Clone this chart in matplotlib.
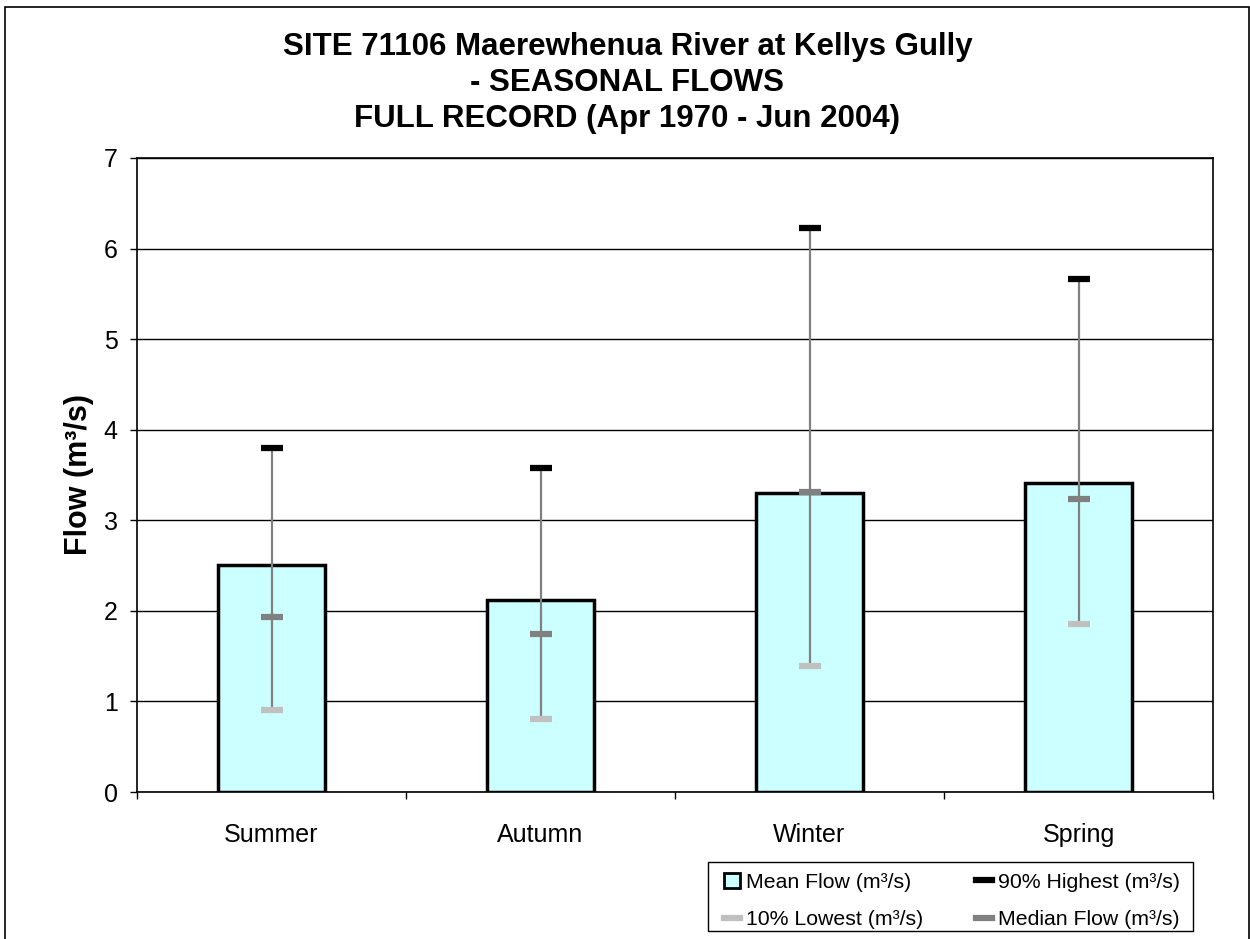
import numpy as np
import matplotlib.pyplot as plt
from matplotlib.patches import Rectangle, Patch
from matplotlib.lines import Line2D

plt.rcParams['font.family'] = ['Liberation Sans', 'DejaVu Sans']

# ---------------- Data ----------------
seasons = ["Summer", "Autumn", "Winter", "Spring"]
mean_flow = [2.51, 2.12, 3.30, 3.41]
high_90 = [3.80, 3.58, 6.23, 5.66]
median_flow = [1.93, 1.75, 3.31, 3.23]
low_10 = [0.90, 0.81, 1.39, 1.86]

# ---------------- Figure ----------------
W, H = 1250, 939
fig = plt.figure(figsize=(W / 100, H / 100), dpi=100)
ax = fig.add_axes([137 / W, 1 - 792 / H, (1213 - 137) / W, (792 - 158) / H])

x = np.arange(len(seasons))

ax.bar(x, mean_flow, width=0.4, color="#CCFFFF", edgecolor="black", linewidth=2.5, zorder=2)

# high-low lines and markers
ax.vlines(x, low_10, high_90, color="#808080", linewidth=1.6, zorder=3)
ax.plot(x, high_90, ls="none", marker="_", ms=16, mew=4.5, color="black", zorder=4)
ax.plot(x, median_flow, ls="none", marker="_", ms=16, mew=4.5, color="#808080", zorder=4)
ax.plot(x, low_10, ls="none", marker="_", ms=16, mew=4.5, color="#C0C0C0", zorder=4)

# ---------------- Axes styling ----------------
ax.set_xlim(-0.5, len(seasons) - 0.5)
ax.set_ylim(0, 7)
ax.set_yticks(range(0, 8))
ax.yaxis.grid(True, color="black", linewidth=1.0)
ax.set_axisbelow(True)

ax.set_xticks(np.arange(-0.5, len(seasons), 1.0))
ax.set_xticklabels([])
ax.set_xticks(x, minor=True)
ax.set_xticklabels(seasons, minor=True)

ax.tick_params(axis="y", direction="out", length=5, width=1, pad=9, labelsize=18)
ax.tick_params(axis="x", which="major", direction="out", length=5, width=1)
ax.tick_params(axis="x", which="minor", length=0, pad=22, labelsize=18)

for s in ax.spines.values():
    s.set_linewidth(1.2)
    s.set_color("black")

ax.set_ylabel("Flow (m³/s)", fontsize=22, fontweight="bold", labelpad=7)

# ---------------- Title ----------------
fig.text(0.502, 1 - 83 / H,
         "SITE 71106 Maerewhenua River at Kellys Gully\n- SEASONAL FLOWS\nFULL RECORD (Apr 1970 - Jun 2004)",
         ha="center", va="center", fontsize=22.5, fontweight="bold", linespacing=1.25)

# ---------------- Legend ----------------
handles = [
    Patch(facecolor="#CCFFFF", edgecolor="black", linewidth=2, label="Mean Flow (m³/s)"),
    Line2D([], [], color="#C0C0C0", lw=4.5, label="10% Lowest (m³/s)"),
    Line2D([], [], color="black", lw=4.5, label="90% Highest (m³/s)"),
    Line2D([], [], color="#808080", lw=4.5, label="Median Flow (m³/s)"),
]
leg = fig.legend(handles=handles, ncol=2, loc="center",
                 bbox_to_anchor=(724 / W, 1 - 940 / H, (1180 - 724) / W, (940 - 862) / H),
                 mode="expand", fontsize=15.3, frameon=False,
                 handlelength=0.75, handleheight=0.75, handletextpad=0.3,
                 columnspacing=1.0, borderpad=0.0, labelspacing=0.85, borderaxespad=0)

# legend box
fig.patches.append(Rectangle((708 / W, 1 - 931 / H), (1193 - 708) / W, (931 - 862) / H,
                             transform=fig.transFigure, fill=False,
                             edgecolor="black", linewidth=1.0))

# ---------------- Figure border ----------------
fig.patches.append(Rectangle((5 / W, -0.01), (1249 - 5) / W, 1.01 - 7 / H,
                             transform=fig.transFigure, fill=False,
                             edgecolor="black", linewidth=1.2))

fig.savefig("out.png", dpi=100)
